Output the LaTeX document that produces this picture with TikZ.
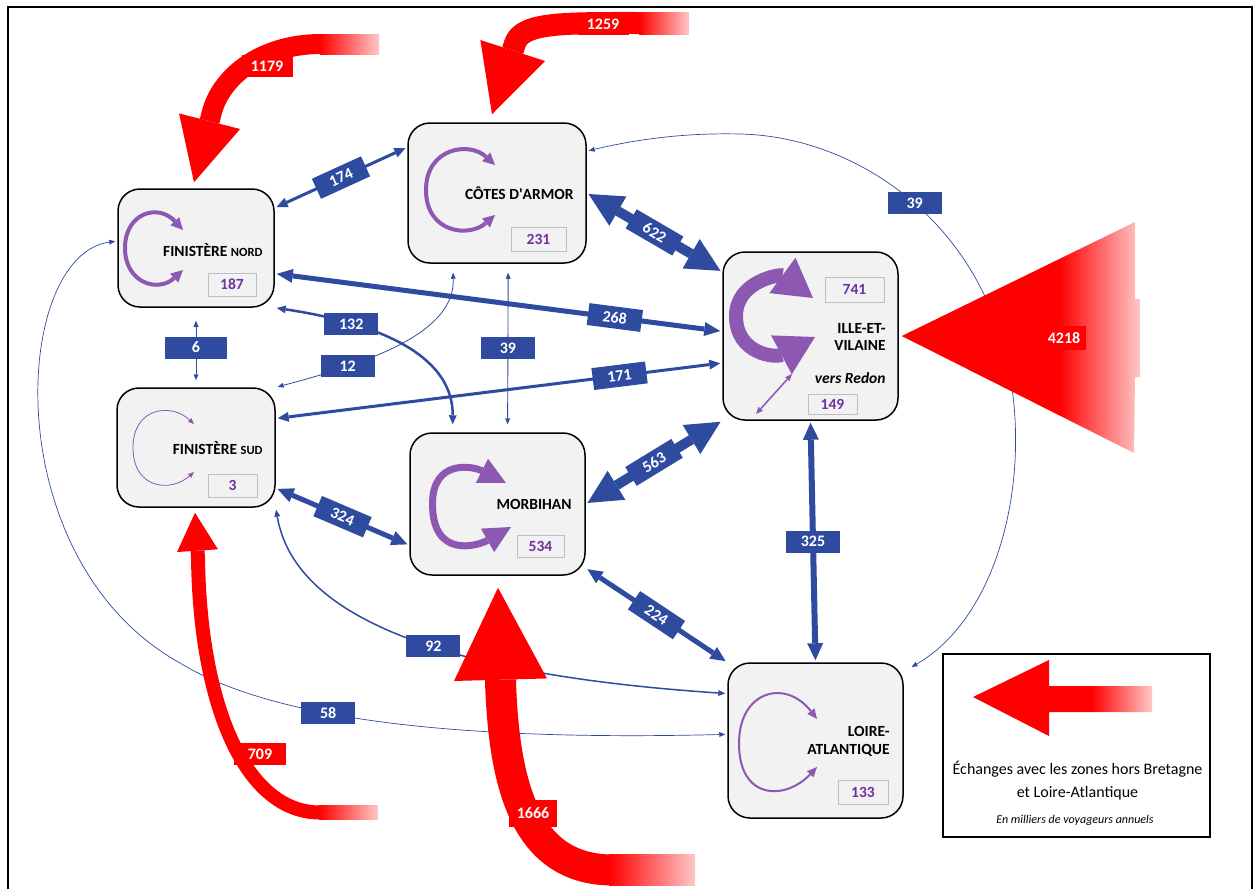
\documentclass[tikz,border=0pt]{standalone}
\usepackage{fontspec}
\setmainfont{Carlito}
\usetikzlibrary{arrows.meta,calc}
\definecolor{bleuflux}{RGB}{46,75,160}
\definecolor{violetboucle}{RGB}{140,88,178}
\definecolor{violetchiffre}{RGB}{112,48,160}
\definecolor{fondzone}{RGB}{242,242,242}
\definecolor{rougeflux}{RGB}{255,0,0}
\pgfdeclarehorizontalshading{rougefondu}{100bp}{color(0bp)=(rougeflux); color(25bp)=(rougeflux); color(58bp)=(rougeflux); color(75bp)=(rougeflux!22); color(100bp)=(rougeflux!22)}
\tikzset{
  zone/.style={draw, line width=1.5pt, rounded corners=22pt, fill=fondzone, inner sep=0pt},
  nom/.style={anchor=east, inner sep=0pt, align=right, font=\bfseries\fontsize{15.5}{17}\selectfont},
  valeur/.style={draw=black!25, line width=0.8pt, fill=fondzone, text=violetchiffre, inner sep=0pt, font=\bfseries\fontsize{15.5}{18}\selectfont},
  boucle/.style n args={3}{draw=violetboucle, line width=#1, >={Triangle[length=#2,width=#3,line width=0pt]}, <->},
  flux/.style n args={3}{draw=bleuflux, line width=#1, >={Triangle[length=#2,width=#3,line width=0pt]}, <->, shorten <=2pt, shorten >=2pt},
  fleche/.style n args={3}{draw=rougeflux, line width=#1, line join=round, -{Triangle[length=#2,width=#3,line width=0pt]}},
  etiq/.style={fill=bleuflux, text=white, inner sep=0pt, minimum width=54pt, minimum height=22pt, font=\bfseries\fontsize{16}{18}\selectfont},
  etiqrouge/.style={etiq, fill=rougeflux}
}
\begin{document}
\begin{tikzpicture}[x=1pt,y=-1pt]
\useasboundingbox (0,0) rectangle (1257,889);
\draw[line width=1.2pt] (8,889) -- (8,7) -- (1252,7) -- (1252,889);

\node[zone, minimum width=156pt, minimum height=118pt] (fn) at (196,248) {};
\node[zone, minimum width=178pt, minimum height=140pt] (ca) at (497,193) {};
\node[zone, minimum width=175pt, minimum height=168pt] (iv) at (810.5,336) {};
\node[zone, minimum width=158pt, minimum height=119pt] (fs) at (196,447.5) {};
\node[zone, minimum width=175pt, minimum height=142pt] (mo) at (497.5,504) {};
\node[zone, minimum width=175pt, minimum height=155pt] (la) at (815.5,740.5) {};

\node[nom] (fnnom) at ($(fn.east)+(-12,2)$) {FINISTÈRE {\fontsize{12.5}{14}\selectfont NORD}};
\node[nom] (canom) at ($(ca.east)+(-13,0)$) {CÔTES D{\addfontfeature{Ligatures=TeXOff}'}ARMOR};
\node[nom] (ivnom) at ($(iv.east)+(-13,0.5)$) {ILLE-ET-\\VILAINE};
\node[nom, font=\bfseries\itshape\fontsize{15.5}{17}\selectfont] (ivredon) at ($(iv.east)+(-13,42)$) {vers Redon};
\node[nom] (fsnom) at ($(fs.east)+(-13,0.5)$) {FINISTÈRE {\fontsize{12.5}{14}\selectfont SUD}};
\node[nom] (monom) at ($(mo.east)+(-14,0)$) {MORBIHAN};
\node[nom, font=\bfseries\fontsize{15.5}{18}\selectfont] (lanom) at ($(la.east)+(-14,0.5)$) {LOIRE-\\ATLANTIQUE};

\node[valeur, minimum width=48pt, minimum height=23pt] (fnval) at ($(fn.center)+(36,36.5)$) {187};
\node[valeur, minimum width=55pt, minimum height=24pt] (caval) at ($(ca.center)+(41.5,46)$) {231};
\node[valeur, minimum width=59pt, minimum height=25pt] (ivval) at ($(iv.center)+(44,-46.5)$) {741};
\node[valeur, minimum width=49pt, minimum height=20pt] (ivredonval) at ($(iv.center)+(22,68)$) {149};
\node[valeur, minimum width=49pt, minimum height=23pt] (fsval) at ($(fs.center)+(36.5,38)$) {3};
\node[valeur, minimum width=47pt, minimum height=22pt] (moval) at ($(mo.center)+(43,42)$) {534};
\node[valeur, minimum width=50pt, minimum height=24pt] (laval) at ($(la.center)+(47.5,51.5)$) {133};

\draw[boucle={4pt}{12pt}{12pt}, shift={(fn.center)}] (-13,-18) .. controls (-38,-45) and (-71,-35) .. (-71,0) .. controls (-71,35) and (-38,45) .. (-13,22);
\draw[boucle={4pt}{12pt}{12pt}, shift={(ca.center)}] (-2,-28) .. controls (-28,-52) and (-71,-45) .. (-71,-3) .. controls (-71,40) and (-28,45) .. (-2,22);
\draw[boucle={14pt}{38pt}{44pt}, shift={(iv.center)}] (2.5,-38) .. controls (-30,-62) and (-74.5,-55) .. (-74.5,-20) .. controls (-74.5,18) and (-35,22) .. (4.5,1);
\draw[boucle={1.5pt}{7pt}{6pt}, shift={(iv.center)}] (-54.5,78) -- (-18.5,38);
\draw[boucle={0.8pt}{6pt}{5pt}, shift={(fs.center)}] (-2,-23.5) .. controls (-25,-45) and (-63,-40) .. (-63,0) .. controls (-63,42) and (-25,45) .. (-2,24.5);
\draw[boucle={7pt}{27pt}{27pt}, shift={(mo.center)}] (8.5,-21) .. controls (-25,-38) and (-65,-45) .. (-65,0) .. controls (-65,55) and (-20,42) .. (13.5,23);
\draw[boucle={2pt}{10pt}{9pt}, shift={(la.center)}] (1.5,-21.5) .. controls (-30,-62) and (-76.5,-50) .. (-76.5,3) .. controls (-76.5,60) and (-30,60) .. (1.5,26.5);

\draw[flux={3pt}{11pt}{10pt}] (fn.27) -- node[etiq, sloped] (e174) {174} (ca.153);
\draw[flux={10pt}{34pt}{34pt}] (ca.east) -- node[etiq, sloped] (e622) {622} (iv.144);
\draw[flux={5pt}{16pt}{14pt}] (fn.-18) -- node[etiq, sloped, pos=.76] (e268) {268} (iv.177);
\draw[flux={3pt}{11pt}{10pt}] (fs.20) -- node[etiq, sloped, pos=.77] (e171) {171} (iv.197);
\draw[flux={1pt}{6pt}{5pt}, shorten <=13pt, shorten >=7pt] (fn.south) -- node[etiq, minimum width=62pt] (e6) {6} (fs.north);
\draw[flux={0.9pt}{6pt}{5pt}, shorten <=9pt, shorten >=8pt] (ca.-81) -- node[etiq] (e39a) {39} (mo.82);
\draw[flux={5pt}{16pt}{15pt}] (fs.-27) -- node[etiq, sloped] (e324) {324} (mo.205);
\draw[flux={10pt}{34pt}{34pt}] (mo.east) -- node[etiq, sloped] (e563) {563} (iv.south west);
\draw[flux={5pt}{15pt}{14pt}] (mo.-36) -- node[etiq, sloped] (e224) {224} (la.north west);
\draw[flux={6pt}{17pt}{16pt}] (iv.south) -- node[etiq] (e325) {325} (la.north);
\draw[flux={2.5pt}{9pt}{8pt}, shorten >=8pt] (fn.south east) .. controls (390,325) and (453,360) .. (mo.122) node[etiq, pos=.25] (e132) {132};
\draw[flux={0.8pt}{6pt}{5pt}, shorten >=9pt] (fs.north east) .. controls (380,360) and (455,330) .. (ca.-122) node[etiq, pos=.25] (e12) {12};
\draw[flux={1.5pt}{7pt}{6pt}] (fs.south east) .. controls (295,620) and (450,675) .. (la.152) node[etiq, pos=.56] (e92) {92};
\draw[flux={0.7pt}{6pt}{5pt}] (fn.175) .. controls (12,255) and (-5,560) .. (180,663) .. controls (260,712) and (420,742) .. (la.176) node[etiq, pos=.42] (e58) {58};
\draw[flux={0.7pt}{6pt}{5pt}, shorten >=9pt] (ca.25) .. controls (650,136) and (700,133) .. (740,134) .. controls (840,136) and (950,200) .. (995,320) node[etiq, pos=.6] (e39b) {39} .. controls (1040,440) and (1010,610) .. (la.38);

\shade[left color=rougeflux, right color=rougeflux!22] (320,34) rectangle (379,54);
\draw[fleche={20pt}{63pt}{63pt}] (321,44) .. controls (260,44) and (220,78) .. (211.5,113.7) -- ($(fn.north)+(-2,-6)$);
\node[etiqrouge, minimum width=51pt] (r1179) at (267,66) {1179};
\shade[left color=rougeflux, right color=rougeflux!22] (639,12) rectangle (689,34);
\draw[fleche={22pt}{67pt}{68pt}] (640,23) .. controls (565,23) and (522,22) .. (515,43.4) -- ($(ca.north)+(-5,-8)$);
\node[etiqrouge, minimum width=51pt] (r1259) at (603,24) {1259};
\shade[left color=rougeflux, right color=rougeflux!22] (319,805.5) rectangle (378,819.5);
\draw[fleche={14pt}{38pt}{41pt}] (320,812.5) .. controls (245,812.5) and (200,705) .. (198,558) -- ($(fs.south)+(-1,5)$);
\node[etiqrouge, minimum width=52pt] (r709) at (260,754) {709};
\shade[left color=rougeflux, right color=rougeflux!22] (609,854.5) rectangle (695,885.5);
\draw[fleche={31pt}{92pt}{93pt}] (610,870) .. controls (530,868) and (505,795) .. (500.7,687) -- ($(mo.south)+(0.5,12)$);
\node[etiqrouge, minimum width=48pt, minimum height=27pt] (r1666) at (533,813) {1666};
\shade[shading=rougefondu] ($(iv.east)+(3,0)$) -- (1135,222) -- (1135,299) -- (1140,299) -- (1140,377) -- (1135,377) -- (1134,453) -- cycle;
\node[etiqrouge, minimum width=43pt, minimum height=24pt] (r4218) at (1064,338) {4218};

\node[draw, line width=1.6pt, minimum width=267pt, minimum height=183pt, inner sep=0pt] (leg) at (1076.5,745.5) {};
\shade[shading=rougefondu] (973,697) -- (1049,660) -- (1049,686) -- (1152,686) -- (1152,712) -- (1049,712) -- (1049,736) -- cycle;
\node[align=center, inner sep=0pt, font=\fontsize{16}{23}\selectfont] (legtexte) at ($(leg.center)+(1,35)$) {Échanges avec les zones hors Bretagne\\et Loire-Atlantique};
\node[inner sep=0pt, font=\itshape\fontsize{12}{14}\selectfont] (legunite) at ($(leg.center)+(-1.5,74.5)$) {En milliers de voyageurs annuels};
\end{tikzpicture}
\end{document}
